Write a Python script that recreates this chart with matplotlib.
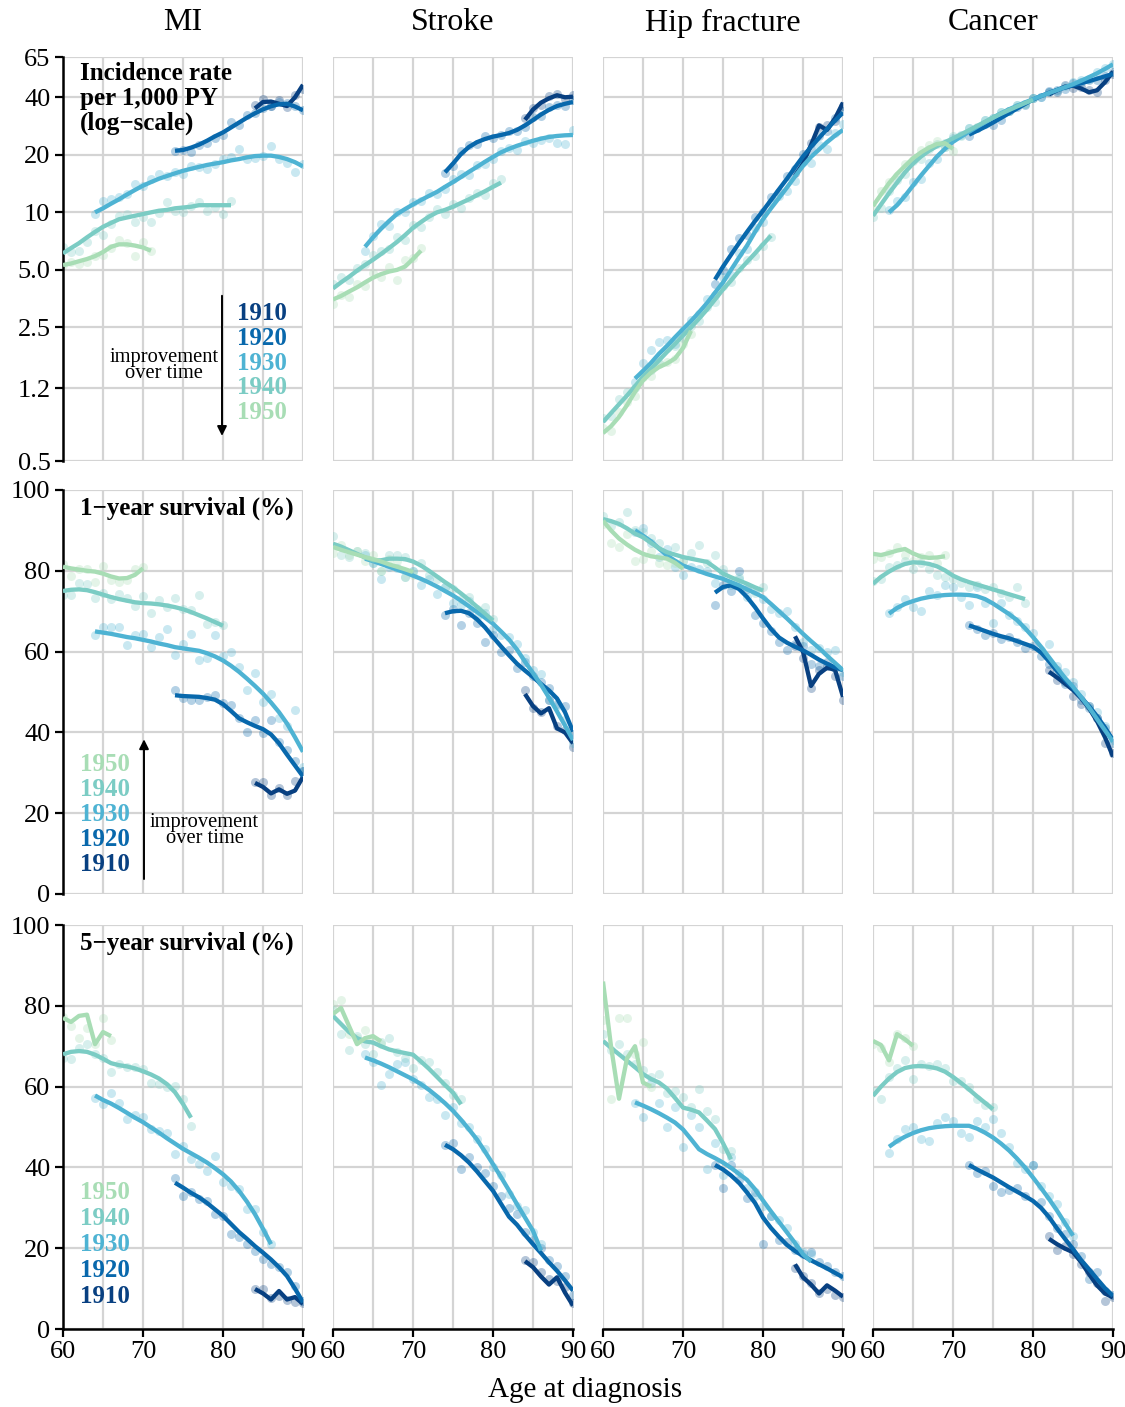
import matplotlib
matplotlib.use("Agg")
import matplotlib.pyplot as plt
from matplotlib.ticker import NullLocator

plt.rcParams['font.family'] = ['Liberation Serif', 'DejaVu Serif']

cohorts = [1910, 1920, 1930, 1940, 1950]
colors = {1910: '#084081', 1920: '#0868ac', 1930: '#4eb3d3', 1940: '#7bccc4', 1950: '#a8ddb5'}
diseases = ['MI', 'Stroke', 'Hip fracture', 'Cancer']

# first age at diagnosis for each birth cohort (one value per year after that)
start_std = {1910: 84, 1920: 74, 1930: 64, 1940: 60, 1950: 60}
start_cancer = {1910: 82, 1920: 72, 1930: 62, 1940: 60, 1950: 60}

inc_ticks = [0.5, 1.2, 2.5, 5.0, 10, 20, 40, 65]
inc_labels = ['0.5', '1.2', '2.5', '5.0', '10', '20', '40', '65']
surv_ticks = [0, 20, 40, 60, 80, 100]

# ---- incidence per 1,000 PY ----
mi_inc_line = {
    1910: [35.0, 37.8, 38.0, 37.0, 36.0, 40.0, 46.5],
    1920: [21.0, 21.2, 21.8, 22.6, 23.7, 25.0, 26.2, 27.8, 29.5, 31.3, 33.0, 34.6, 35.9, 36.8, 37.0, 35.8, 34.2],
    1930: [10.0, 10.5, 11.1, 11.7, 12.4, 13.1, 13.8, 14.4, 15.0, 15.5, 16.0, 16.5, 16.9, 17.3, 17.7, 18.0, 18.3, 18.7, 19.0, 19.4, 19.7, 19.8, 19.8, 19.5, 19.0, 18.3, 17.4],
    1940: [6.1, 6.5, 6.9, 7.4, 7.9, 8.4, 8.8, 9.2, 9.4, 9.6, 9.8, 10.0, 10.2, 10.3, 10.5, 10.6, 10.7, 10.9, 10.9, 10.9, 10.9, 10.9],
    1950: [5.3, 5.4, 5.55, 5.7, 5.9, 6.2, 6.6, 6.8, 6.8, 6.7, 6.55, 6.3],
}
mi_inc_dots = {
    1910: [36.5, 39.0, 36.0, 38.5, 35.5, 41.0, 44.0],
    1920: [21.0, 21.3, 20.6, 22.5, 23.0, 24.5, 25.5, 29.8, 28.7, 32.5, 33.0, 35.0, 36.0, 38.0, 37.5, 36.0, 34.5],
    1930: [9.8, 11.5, 11.7, 12.0, 12.5, 14.1, 13.8, 14.9, 15.9, 15.5, 16.2, 15.9, 17.5, 17.2, 16.8, 17.9, 19.0, 19.4, 21.5, 19.0, 19.2, 19.8, 22.3, 19.0, 18.2, 16.2, 17.9],
    1940: [6.6, 6.2, 6.3, 7.0, 8.0, 7.6, 8.7, 9.6, 9.8, 8.9, 9.5, 8.9, 9.9, 11.3, 10.2, 10.0, 10.8, 11.3, 10.2, 10.7, 9.8, 11.5],
    1950: [5.3, 5.5, 5.4, 5.5, 5.9, 6.0, 6.5, 7.2, 6.9, 5.9, 7.0, 6.3],
}
stroke_inc_line = {
    1910: [30.5, 34.5, 37.5, 39.5, 41.0, 40.0, 40.3],
    1920: [16.2, 18.0, 20.2, 22.0, 23.3, 24.2, 24.9, 25.4, 26.0, 27.0, 28.5, 30.4, 32.5, 34.4, 36.0, 37.0, 37.8],
    1930: [6.6, 7.4, 8.2, 9.0, 9.8, 10.4, 11.0, 11.6, 12.2, 12.8, 13.6, 14.4, 15.3, 16.3, 17.3, 18.4, 19.5, 20.6, 21.5, 22.3, 23.0, 23.7, 24.3, 24.8, 25.1, 25.3, 25.4],
    1940: [4.0, 4.3, 4.6, 4.95, 5.3, 5.65, 6.05, 6.5, 7.0, 7.6, 8.3, 8.9, 9.5, 10.0, 10.3, 10.7, 11.2, 11.7, 12.3, 12.9, 13.6, 14.3],
    1950: [3.5, 3.65, 3.85, 4.05, 4.3, 4.55, 4.75, 4.9, 5.0, 5.2, 5.7, 6.3],
}
stroke_inc_dots = {
    1910: [31.0, 35.0, 36.5, 40.5, 41.5, 39.0, 41.0],
    1920: [16.0, 17.5, 21.0, 22.5, 22.8, 25.0, 24.5, 25.5, 26.5, 26.5, 28.0, 31.5, 32.0, 35.5, 36.5, 36.0, 38.5],
    1930: [6.3, 7.5, 8.7, 8.5, 10.1, 10.0, 11.3, 11.4, 12.6, 12.5, 13.2, 14.9, 15.8, 15.7, 17.6, 17.8, 19.0, 21.0, 21.6, 21.2, 23.5, 23.2, 24.0, 24.6, 23.2, 22.8, 27.0],
    1940: [4.2, 4.6, 4.4, 5.1, 5.4, 6.0, 6.3, 6.4, 7.4, 7.2, 8.6, 8.4, 9.4, 10.4, 9.8, 11.1, 10.6, 11.9, 12.7, 12.4, 14.2, 15.0],
    1950: [3.3, 3.7, 3.6, 4.2, 4.1, 4.8, 4.6, 5.2, 4.4, 5.6, 5.8, 6.5],
}
hip_inc_line = {
    1910: [15.5, 18.0, 22.5, 28.5, 27.0, 31.0, 37.5],
    1920: [4.45, 5.2, 6.0, 6.9, 7.9, 9.0, 10.2, 11.6, 13.2, 15.0, 17.2, 19.6, 22.0, 24.5, 27.3, 30.2, 33.3],
    1930: [1.35, 1.48, 1.63, 1.82, 2.0, 2.22, 2.45, 2.7, 3.0, 3.35, 3.8, 4.3, 5.0, 5.8, 6.7, 7.9, 9.2, 10.5, 11.9, 13.5, 15.4, 17.5, 19.5, 21.3, 23.3, 25.2, 27.0],
    1940: [0.80, 0.89, 0.99, 1.10, 1.23, 1.38, 1.52, 1.68, 1.86, 2.05, 2.27, 2.5, 2.78, 3.1, 3.5, 3.95, 4.4, 4.95, 5.5, 6.1, 6.8, 7.55],
    1950: [0.70, 0.76, 0.85, 0.98, 1.15, 1.32, 1.45, 1.55, 1.62, 1.72, 1.95, 2.4],
}
hip_inc_dots = {
    1910: [16.0, 18.5, 23.0, 28.0, 28.5, 30.0, 36.0],
    1920: [4.2, 5.0, 6.4, 7.3, 7.6, 9.4, 10.0, 12.0, 12.8, 15.5, 16.8, 20.3, 21.5, 25.0, 26.5, 31.0, 34.0],
    1930: [1.30, 1.62, 1.90, 2.10, 2.15, 2.05, 2.40, 2.75, 2.95, 3.5, 3.7, 4.6, 4.7, 6.1, 6.4, 8.3, 8.9, 11.3, 12.2, 13.0, 14.6, 18.3, 18.2, 22.5, 21.5, 26.0, 29.0],
    1940: [0.84, 0.86, 1.05, 1.15, 1.2, 1.45, 1.5, 1.62, 1.95, 2.0, 2.2, 2.55, 2.7, 3.2, 3.4, 4.1, 4.3, 5.1, 5.6, 5.9, 6.7, 7.4],
    1950: [0.74, 0.72, 0.90, 1.02, 1.10, 1.38, 1.40, 1.60, 1.65, 1.70, 2.05, 2.30],
}
cancer_inc_line = {
    1910: [41.5, 43.5, 45.5, 46.0, 44.5, 42.5, 43.5, 48.0, 54.5],
    1920: [25.5, 26.7, 28.0, 29.5, 31.2, 33.0, 34.9, 36.9, 38.9, 40.6, 42.2, 43.7, 45.0, 46.2, 47.4, 48.6, 50.0, 51.5, 53.0],
    1930: [10.0, 10.9, 12.2, 13.8, 15.6, 17.5, 19.6, 21.5, 23.4, 24.9, 26.4, 28.0, 29.6, 31.3, 33.0, 34.6, 36.1, 37.6, 39.1, 40.6, 42.1, 43.6, 45.2, 46.8, 48.8, 51.0, 53.4, 56.3, 59.5],
    1940: [9.6, 11.0, 12.6, 14.3, 16.2, 18.0, 19.6, 21.0, 22.2, 23.3, 24.4, 25.6, 26.9, 28.3, 29.8, 31.3, 32.8, 34.3, 35.8, 37.3, 38.8],
    1950: [10.8, 12.4, 14.2, 15.9, 17.5, 19.2, 20.6, 21.8, 22.8, 23.0, 21.5],
}
cancer_inc_dots = {
    1910: [42.5, 42.5, 46.5, 45.0, 45.5, 43.5, 42.5, 49.0, 53.0],
    1920: [25.0, 27.5, 29.0, 28.5, 30.5, 34.0, 35.5, 36.5, 39.5, 40.0, 43.0, 43.5, 44.0, 47.5, 48.0, 49.5, 49.0, 52.0, 54.0],
    1930: [10.3, 11.5, 12.0, 14.5, 15.0, 18.2, 19.0, 22.0, 24.5, 25.5, 27.5, 27.5, 30.5, 31.0, 33.5, 34.0, 36.5, 37.0, 39.5, 40.0, 42.5, 43.0, 46.0, 48.0, 49.5, 50.0, 54.0, 57.0, 60.0],
    1940: [9.4, 10.5, 13.0, 14.8, 15.8, 18.5, 19.0, 21.5, 22.8, 23.0, 25.0, 25.0, 27.5, 28.0, 30.5, 31.0, 33.5, 34.0, 36.5, 37.0, 39.5],
    1950: [10.5, 13.0, 14.5, 15.5, 18.0, 18.8, 21.2, 22.5, 23.5, 22.0, 21.0],
}

# ---- 1-year survival (%) ----
mi_s1_line = {
    1910: [27.5, 26.5, 24.9, 25.9, 24.8, 25.6, 29.0],
    1920: [49.2, 49.0, 48.9, 48.8, 48.5, 48.1, 47.0, 45.3, 43.5, 42.5, 41.6, 40.8, 39.5, 37.3, 34.5, 31.8, 29.1],
    1930: [65.0, 64.7, 64.4, 64.0, 63.6, 63.3, 62.9, 62.5, 62.0, 61.6, 61.1, 60.8, 60.5, 60.2, 59.6, 58.8, 57.8, 56.5, 55.0, 53.3, 51.5, 49.6, 47.4, 45.0, 42.2, 38.8, 35.2],
    1940: [75.0, 75.3, 75.4, 75.2, 74.7, 74.1, 73.5, 73.0, 72.6, 72.2, 72.0, 71.9, 71.7, 71.4, 71.0, 70.5, 69.8, 69.0, 68.2, 67.3, 66.4],
    1950: [81.0, 80.6, 80.3, 80.0, 79.8, 79.3, 78.6, 78.1, 78.2, 79.0, 80.6],
}
mi_s1_dots = {
    1910: [27.6, 27.8, 24.5, 26.2, 24.6, 28.0, 30.5],
    1920: [50.5, 48.4, 48.0, 48.0, 48.8, 49.2, 47.2, 46.7, 43.5, 40.2, 43.0, 39.8, 43.0, 37.7, 35.6, 33.0, 30.5],
    1930: [64.0, 66.1, 66.0, 66.2, 61.6, 64.0, 64.3, 61.2, 63.6, 65.7, 59.1, 62.0, 64.4, 57.9, 58.3, 64.0, 59.0, 59.9, 56.2, 50.5, 54.6, 47.6, 49.6, 43.5, 41.5, 45.5, 31.5],
    1940: [73.9, 74.0, 77.0, 76.8, 73.3, 74.5, 73.1, 74.3, 73.2, 71.4, 73.7, 69.5, 72.7, 71.0, 73.3, 70.6, 70.4, 73.9, 66.9, 67.3, 66.5],
    1950: [81.7, 78.8, 80.5, 80.5, 77.2, 81.3, 77.6, 77.2, 77.6, 80.5, 80.9],
}
stroke_s1_line = {
    1910: [49.5, 46.5, 44.7, 46.0, 41.0, 40.0, 37.3],
    1920: [69.5, 70.0, 70.1, 69.5, 68.0, 66.0, 63.6, 61.3, 59.1, 57.0, 55.3, 53.7, 52.0, 50.4, 48.4, 45.0, 40.2],
    1930: [83.0, 82.4, 81.7, 81.0, 80.3, 79.6, 78.8, 78.0, 77.1, 76.1, 75.0, 73.9, 72.6, 71.2, 69.8, 68.4, 66.9, 65.0, 63.0, 60.5, 57.5, 54.7, 51.8, 48.6, 45.2, 41.7, 38.1],
    1940: [86.7, 86.0, 85.1, 84.2, 83.3, 82.6, 82.6, 83.0, 83.0, 82.9, 82.3, 81.3, 80.0, 78.6, 77.2, 75.9, 74.4, 72.8, 71.1, 69.4, 67.7],
    1950: [85.9, 85.2, 84.6, 84.0, 83.4, 82.9, 82.3, 81.6, 81.0, 80.4, 79.7],
}
stroke_s1_dots = {
    1910: [50.5, 46.0, 45.0, 48.0, 41.5, 40.5, 36.5],
    1920: [69.0, 70.5, 66.5, 69.5, 67.0, 62.5, 64.0, 60.0, 60.5, 56.0, 57.5, 54.0, 52.5, 51.0, 47.0, 46.5, 39.5],
    1930: [84.0, 82.0, 78.0, 81.0, 80.8, 78.5, 80.0, 76.5, 78.0, 74.2, 76.0, 72.0, 71.5, 72.5, 68.5, 69.5, 65.5, 64.0, 63.5, 62.0, 58.5, 55.5, 54.5, 48.0, 46.5, 43.0, 37.5],
    1940: [88.5, 84.0, 83.5, 85.0, 84.5, 82.0, 80.0, 83.8, 84.0, 83.5, 80.0, 82.0, 79.0, 78.0, 76.0, 75.5, 73.0, 73.5, 70.5, 71.0, 68.0],
    1950: [84.5, 86.5, 84.0, 84.8, 82.5, 84.0, 80.0, 83.0, 82.5, 78.5, 79.0],
}
hip_s1_line = {
    1910: [63.8, 60.0, 51.5, 54.5, 56.0, 55.5, 48.8],
    1920: [74.6, 76.0, 76.4, 75.5, 73.5, 71.0, 68.2, 65.6, 63.5, 62.2, 61.2, 60.3, 59.2, 58.0, 57.0, 56.1, 55.4],
    1930: [90.0, 88.7, 87.3, 85.5, 83.8, 82.5, 81.3, 80.6, 79.9, 79.2, 78.6, 78.0, 77.2, 76.4, 75.4, 74.5, 73.5, 71.8, 70.0, 68.2, 66.3, 64.4, 62.6, 60.9, 59.0, 57.2, 55.4],
    1940: [92.8, 92.3, 91.6, 90.5, 89.2, 88.3, 86.9, 85.6, 84.6, 84.0, 83.4, 83.0, 82.6, 82.2, 80.8, 79.3, 78.4, 77.6, 76.8, 75.9, 75.1],
    1950: [92.4, 90.0, 88.0, 86.5, 85.2, 84.2, 83.6, 83.3, 83.0, 82.0, 80.5],
}
hip_s1_dots = {
    1910: [61.5, 58.5, 51.0, 55.5, 56.5, 54.0, 48.0],
    1920: [71.5, 76.5, 75.0, 80.0, 75.5, 69.0, 67.0, 65.0, 62.5, 60.5, 62.0, 61.5, 57.0, 56.5, 57.5, 56.0, 54.0],
    1930: [89.5, 90.5, 87.0, 83.5, 85.5, 81.0, 79.0, 81.0, 80.5, 80.0, 77.0, 79.5, 76.5, 78.0, 73.5, 75.0, 73.0, 70.5, 69.5, 70.0, 66.0, 62.5, 60.5, 61.0, 60.0, 60.5, 55.0],
    1940: [93.5, 91.0, 92.0, 94.5, 90.0, 89.5, 88.0, 87.0, 84.0, 86.0, 82.5, 84.5, 86.5, 82.0, 84.0, 80.5, 77.0, 78.5, 76.0, 74.5, 76.0],
    1950: [91.5, 87.0, 86.0, 89.0, 82.5, 83.0, 85.0, 82.0, 81.5, 82.0, 82.5],
}
cancer_s1_line = {
    1910: [55.0, 53.6, 52.1, 50.5, 48.5, 46.0, 42.8, 38.8, 34.0],
    1920: [66.5, 65.8, 65.1, 64.4, 63.8, 63.3, 62.6, 61.9, 61.2, 59.8, 57.6, 55.2, 53.0, 50.9, 48.7, 46.5, 44.0, 41.2, 38.1],
    1930: [69.4, 70.8, 71.8, 72.5, 73.1, 73.5, 73.8, 74.0, 74.1, 74.1, 74.0, 73.7, 73.0, 71.9, 70.6, 69.3, 67.8, 65.8, 63.6, 61.2, 58.6, 56.0, 53.5, 51.3, 48.8, 46.2, 43.3, 40.5, 37.7],
    1940: [76.8, 78.5, 79.8, 80.9, 81.7, 82.1, 82.0, 81.7, 81.1, 80.1, 78.8, 77.9, 77.2, 76.6, 76.0, 75.4, 74.8, 74.2, 73.6, 73.0],
    1950: [84.2, 83.9, 84.4, 85.0, 85.4, 84.3, 83.5, 83.2, 83.3, 83.6],
}
cancer_s1_dots = {
    1910: [55.5, 53.0, 52.5, 49.0, 47.0, 46.5, 43.5, 37.5, 35.0],
    1920: [66.5, 65.5, 64.0, 64.5, 63.0, 63.5, 62.5, 61.0, 61.5, 59.0, 57.0, 55.5, 52.0, 51.5, 48.0, 46.0, 43.5, 41.0, 37.5],
    1930: [69.5, 71.0, 73.0, 71.0, 70.0, 75.0, 74.0, 76.5, 76.0, 73.5, 71.5, 76.0, 72.0, 67.0, 72.0, 69.0, 67.5, 66.0, 64.5, 60.5, 62.0, 56.5, 55.0, 52.5, 49.5, 46.5, 45.0, 41.5, 38.0],
    1940: [77.5, 78.0, 81.0, 81.5, 82.5, 80.5, 82.0, 80.5, 79.0, 78.5, 78.0, 77.0, 76.0, 76.5, 75.5, 76.0, 74.5, 73.5, 76.0, 72.0],
    1950: [83.0, 83.5, 84.5, 86.0, 84.0, 82.5, 83.5, 84.0, 82.0, 84.0],
}

# ---- 5-year survival (%) ----
mi_s5_line = {
    1910: [9.9, 8.8, 7.3, 9.4, 7.3, 7.9, 6.2],
    1920: [36.2, 35.0, 33.7, 32.6, 31.2, 29.6, 28.0, 26.0, 24.0, 22.3, 20.5, 18.9, 17.2, 15.3, 13.1, 10.0, 6.6],
    1930: [57.8, 56.7, 55.8, 54.7, 53.5, 52.3, 51.2, 49.9, 48.6, 47.2, 45.9, 44.6, 43.5, 42.4, 41.2, 39.8, 38.3, 36.5, 34.2, 31.5, 28.4, 24.8, 21.0],
    1940: [68.0, 68.6, 68.8, 68.6, 67.9, 66.9, 65.8, 65.3, 65.0, 64.5, 63.8, 63.0, 62.0, 60.6, 58.6, 55.7, 52.3],
    1950: [77.0, 76.0, 77.5, 77.8, 70.5, 73.5, 72.5],
}
mi_s5_dots = {
    1910: [9.9, 10.0, 7.6, 8.2, 7.3, 6.8, 6.4],
    1920: [37.5, 33.0, 34.0, 32.2, 31.7, 28.4, 28.0, 23.5, 22.7, 21.0, 19.4, 17.3, 16.1, 15.3, 14.0, 10.7, 7.0],
    1930: [57.3, 55.6, 58.3, 55.9, 51.9, 53.0, 52.4, 49.5, 49.1, 48.6, 43.3, 45.3, 42.0, 40.8, 39.2, 42.9, 36.3, 35.4, 34.6, 29.7, 29.7, 23.9, 21.0],
    1940: [67.2, 66.8, 69.5, 70.5, 68.0, 67.0, 63.5, 65.5, 64.8, 64.9, 64.3, 61.0, 60.6, 59.8, 60.2, 56.9, 50.3],
    1950: [77.2, 75.0, 72.1, 74.5, 70.5, 77.1, 71.5],
}
stroke_s5_line = {
    1910: [16.8, 15.3, 13.0, 11.0, 12.8, 9.0, 5.8],
    1920: [45.6, 44.5, 43.0, 41.2, 39.0, 36.6, 34.2, 31.0, 27.8, 25.8, 23.3, 21.0, 18.8, 16.5, 14.4, 12.0, 9.5],
    1930: [67.2, 66.5, 65.7, 64.8, 63.8, 62.8, 61.8, 60.6, 59.2, 57.6, 55.9, 54.0, 51.8, 49.4, 46.9, 43.9, 40.8, 37.6, 34.3, 30.9, 27.6, 24.3, 19.4],
    1940: [77.5, 75.5, 73.5, 72.0, 71.2, 70.9, 70.0, 69.2, 68.7, 68.3, 67.9, 66.2, 64.4, 62.4, 60.4, 58.5, 55.6],
    1950: [78.0, 79.5, 75.0, 70.5, 72.0, 72.5, 71.2],
}
stroke_s5_dots = {
    1910: [17.0, 16.5, 14.0, 12.5, 12.0, 10.5, 6.5],
    1920: [45.5, 46.0, 39.5, 42.5, 40.0, 38.5, 35.5, 33.0, 30.0, 28.5, 24.0, 22.0, 20.0, 17.0, 15.5, 13.0, 8.5],
    1930: [68.0, 66.0, 60.5, 63.0, 65.5, 66.0, 62.0, 60.5, 57.5, 57.0, 53.0, 55.0, 51.0, 50.0, 47.0, 44.5, 40.0, 38.0, 33.5, 30.5, 29.5, 24.0, 21.0],
    1940: [79.0, 73.0, 69.0, 72.5, 70.5, 68.0, 71.0, 72.0, 68.5, 67.0, 64.5, 66.5, 66.0, 63.5, 61.0, 58.0, 57.0],
    1950: [80.5, 81.5, 73.0, 72.0, 74.0, 71.5, 70.5],
}
hip_s5_line = {
    1910: [16.0, 12.8, 11.0, 8.8, 10.8, 9.5, 8.0],
    1920: [40.6, 39.5, 38.0, 36.2, 33.8, 31.2, 27.6, 25.0, 22.8, 20.8, 19.3, 18.1, 17.0, 16.0, 15.0, 13.9, 12.8],
    1930: [56.1, 55.3, 54.4, 53.4, 52.3, 51.1, 49.4, 47.0, 44.5, 43.3, 42.3, 41.2, 39.9, 38.4, 36.9, 34.6, 31.8, 29.1, 26.5, 23.9, 21.3, 18.5, 16.7],
    1940: [71.3, 69.6, 68.0, 66.4, 64.8, 63.1, 61.9, 61.0, 59.5, 57.2, 54.8, 54.3, 53.6, 51.6, 49.5, 46.0, 42.0],
    1950: [86.0, 70.0, 57.0, 67.0, 70.0, 61.0, 60.0],
}
hip_s5_dots = {
    1910: [15.0, 13.0, 11.5, 9.0, 10.0, 8.5, 8.0],
    1920: [40.5, 35.0, 40.5, 37.0, 32.5, 34.0, 21.0, 28.0, 22.0, 21.5, 19.5, 18.5, 19.0, 16.5, 15.5, 14.0, 13.0],
    1930: [56.0, 52.5, 61.0, 56.0, 50.0, 55.0, 45.0, 53.0, 50.0, 39.5, 46.0, 38.0, 42.5, 38.5, 35.0, 33.0, 30.5, 28.0, 27.0, 25.0, 21.0, 19.0, 18.5],
    1940: [73.0, 69.0, 70.5, 68.0, 65.5, 64.0, 62.5, 63.0, 58.5, 59.0, 57.5, 55.0, 59.5, 54.0, 52.0, 44.5, 44.0],
    1950: [76.5, 57.0, 77.0, 77.0, 68.0, 71.0, 60.0],
}
cancer_s5_line = {
    1910: [22.3, 21.0, 19.9, 19.0, 16.6, 13.6, 10.8, 8.8, 7.8],
    1920: [40.6, 39.5, 38.5, 37.5, 36.3, 35.1, 34.0, 32.9, 31.7, 30.0, 27.7, 24.9, 22.3, 19.8, 17.1, 14.8, 12.4, 10.1, 8.2],
    1930: [45.1, 46.5, 47.6, 48.5, 49.2, 49.7, 50.0, 50.2, 50.3, 50.3, 50.3, 49.6, 48.6, 47.4, 45.9, 44.2, 42.2, 40.0, 37.5, 34.9, 32.2, 29.3, 26.2, 23.1],
    1940: [57.7, 60.0, 62.0, 63.6, 64.6, 65.0, 65.1, 64.9, 64.5, 63.7, 62.4, 60.9, 59.3, 57.6, 56.0, 54.4],
    1950: [71.3, 70.3, 66.5, 73.0, 71.7, 70.1],
}
cancer_s5_dots = {
    1910: [23.0, 19.5, 20.5, 18.5, 16.0, 14.0, 11.5, 7.0, 8.0],
    1920: [40.5, 38.5, 39.0, 35.5, 34.0, 34.5, 35.0, 33.0, 40.5, 31.5, 28.0, 25.0, 23.5, 21.0, 18.0, 12.5, 14.0, 9.5, 8.5],
    1930: [43.5, 47.0, 49.5, 50.0, 47.0, 46.5, 51.0, 52.5, 51.5, 48.5, 47.5, 51.5, 50.0, 52.0, 48.5, 45.0, 41.0, 39.5, 40.5, 35.5, 33.0, 31.0, 26.5, 23.0],
    1940: [59.0, 57.0, 62.5, 64.5, 66.5, 62.0, 65.5, 65.0, 65.5, 64.5, 61.5, 61.5, 60.0, 57.0, 55.5, 55.0],
    1950: [70.5, 69.5, 66.0, 73.0, 72.0, 70.0],
}

panels = [
    [(mi_inc_line, mi_inc_dots, start_std), (stroke_inc_line, stroke_inc_dots, start_std),
     (hip_inc_line, hip_inc_dots, start_std), (cancer_inc_line, cancer_inc_dots, start_cancer)],
    [(mi_s1_line, mi_s1_dots, start_std), (stroke_s1_line, stroke_s1_dots, start_std),
     (hip_s1_line, hip_s1_dots, start_std), (cancer_s1_line, cancer_s1_dots, start_cancer)],
    [(mi_s5_line, mi_s5_dots, start_std), (stroke_s5_line, stroke_s5_dots, start_std),
     (hip_s5_line, hip_s5_dots, start_std), (cancer_s5_line, cancer_s5_dots, start_cancer)],
]

W, H = 1125, 1407
fig = plt.figure(figsize=(W / 100, H / 100), dpi=100)

col_left = [63, 333, 603, 873]
row_top = [57, 490, 925]
ax_w, ax_h = 240, 404
grid_col = '#d4d4d4'

axes = []
for r in range(3):
    row_axes = []
    for c in range(4):
        ax = fig.add_axes([col_left[c] / W, 1 - (row_top[r] + ax_h) / H, ax_w / W, ax_h / H])
        line_d, dots_d, starts = panels[r][c]
        for coh in cohorts:
            ages = list(range(starts[coh], starts[coh] + len(dots_d[coh])))
            ax.scatter(ages, dots_d[coh], s=42, color=colors[coh], alpha=0.3, linewidths=0, zorder=2)
        for coh in cohorts:
            ages = list(range(starts[coh], starts[coh] + len(line_d[coh])))
            ax.plot(ages, line_d[coh], color=colors[coh], lw=3.1, solid_capstyle='butt',
                    solid_joinstyle='round', zorder=3)

        ax.set_xlim(60, 90)
        if r == 0:
            ax.set_yscale('log')
            ax.set_ylim(0.5, 65)
            ax.set_yticks(inc_ticks)
            ax.set_yticklabels(inc_labels)
            ax.yaxis.set_minor_locator(NullLocator())
        else:
            ax.set_ylim(0, 100)
            ax.set_yticks(surv_ticks)
        ax.set_xticks([60, 70, 80, 90])
        ax.set_xticks([65, 75, 85], minor=True)
        ax.grid(True, which='both', color=grid_col, lw=1.6, zorder=0)
        ax.set_axisbelow(True)
        ax.tick_params(which='minor', length=0)
        ax.tick_params(which='major', labelsize=19, width=1.6, length=6, color='black', pad=3)

        for s in ax.spines.values():
            s.set_visible(False)
        if c == 0:
            ax.spines['left'].set_visible(True)
            ax.spines['left'].set_linewidth(1.8)
            ax.tick_params(axis='y', left=True)
        else:
            ax.tick_params(axis='y', left=False, labelleft=False)
        if r == 2:
            ax.spines['bottom'].set_visible(True)
            ax.spines['bottom'].set_linewidth(1.8)
        else:
            ax.tick_params(axis='x', bottom=False, labelbottom=False)
        row_axes.append(ax)
    axes.append(row_axes)

for c, name in enumerate(diseases):
    fig.text((col_left[c] + ax_w / 2) / W, 1 - 23 / H, name, ha='center', va='center', fontsize=23)
fig.text(585 / W, 1 - 1390 / H, 'Age at diagnosis', ha='center', va='center', fontsize=21)

# panel annotations
a0, a1, a2 = axes[0][0], axes[1][0], axes[2][0]
a0.text(0.07, 0.988, 'Incidence rate\nper 1,000 PY\n(log\u2212scale)', transform=a0.transAxes,
        ha='left', va='top', fontsize=18, fontweight='bold', linespacing=1.1)
a1.text(0.07, 0.955, '1\u2212year survival (%)', transform=a1.transAxes,
        ha='left', va='center', fontsize=18, fontweight='bold')
a2.text(0.07, 0.955, '5\u2212year survival (%)', transform=a2.transAxes,
        ha='left', va='center', fontsize=18, fontweight='bold')

for i, coh in enumerate(cohorts):
    a0.text(0.725, 0.365 - i * 0.0614, str(coh), transform=a0.transAxes, ha='left', va='center',
            fontsize=18, fontweight='bold', color=colors[coh])
for i, coh in enumerate(cohorts[::-1]):
    a1.text(0.07, 0.321 - i * 0.0617, str(coh), transform=a1.transAxes, ha='left', va='center',
            fontsize=18, fontweight='bold', color=colors[coh])
    a2.text(0.07, 0.337 - i * 0.0644, str(coh), transform=a2.transAxes, ha='left', va='center',
            fontsize=18, fontweight='bold', color=colors[coh])

arrow = dict(arrowstyle='-|>', color='black', lw=1.4, mutation_scale=14, shrinkA=0, shrinkB=0)
a0.annotate('', xy=(0.6625, 0.062), xytext=(0.6625, 0.409), xycoords='axes fraction', arrowprops=arrow)
a0.text(0.42, 0.236, 'improvement\nover time', transform=a0.transAxes, ha='center', va='center',
        fontsize=14.8, linespacing=0.8)
a1.annotate('', xy=(0.3375, 0.383), xytext=(0.3375, 0.037), xycoords='axes fraction', arrowprops=arrow)
a1.text(0.59, 0.158, 'improvement\nover time', transform=a1.transAxes, ha='center', va='center',
        fontsize=14.8, linespacing=0.8)

fig.savefig('out.png', dpi=100)
